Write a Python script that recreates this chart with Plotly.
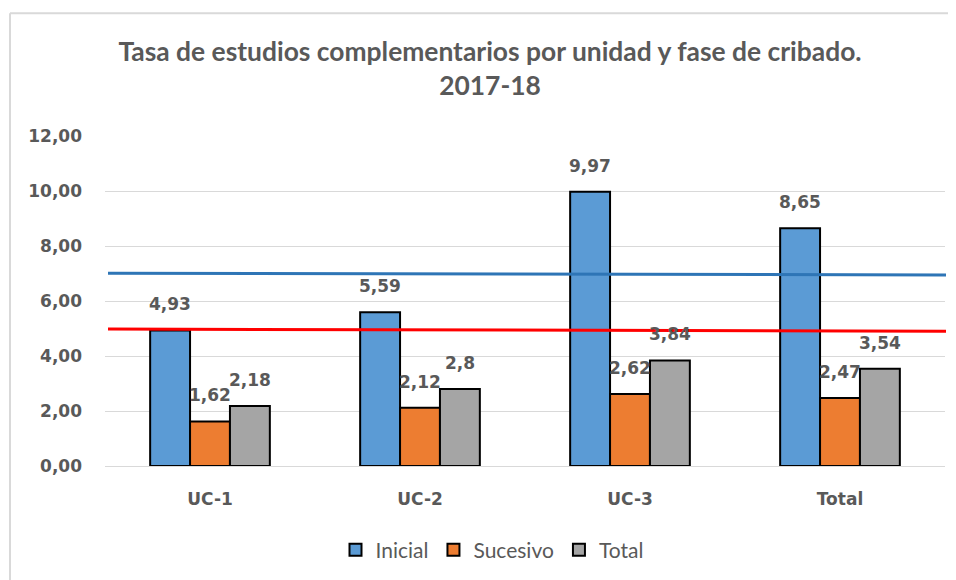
import plotly.graph_objects as go

categories = ["UC-1", "UC-2", "UC-3", "Total"]
inicial = [4.93, 5.59, 9.97, 8.65]
sucesivo = [1.62, 2.12, 2.62, 2.47]
total = [2.18, 2.80, 3.84, 3.54]
labels_inicial = ["4,93", "5,59", "9,97", "8,65"]
labels_sucesivo = ["1,62", "2,12", "2,62", "2,47"]
labels_total = ["2,18", "2,8", "3,84", "3,54"]
tick_vals = [0, 2, 4, 6, 8, 10, 12]
tick_text = ["0,00", "2,00", "4,00", "6,00", "8,00", "10,00", "12,00"]
ref_blue = [7.01, 6.95]
ref_red = [4.98, 4.90]

# page body has an 8px margin, so work in figure coordinates = screen - 8
OFF = 8
W, H = 956 - OFF, 580 - OFF
L, R, T, B = 97, 11, 128, 113
pw, ph = W - L - R, H - T - B

def px(x):
    return (x - OFF - L) / pw

def py(y):
    return (H - B - (y - OFF)) / ph

num_font = dict(family="DejaVu Sans", size=17, color="#595959", weight="bold")

fig = go.Figure()
series = [
    ("Inicial", inicial, labels_inicial, "#5B9BD5", -40),
    ("Sucesivo", sucesivo, labels_sucesivo, "#ED7D31", 0),
    ("Total", total, labels_total, "#A5A5A5", 40),
]
for name, vals, labs, col, shift in series:
    fig.add_trace(go.Bar(
        name=name, x=categories, y=vals,
        marker=dict(color=col, line=dict(color="#000000", width=2)),
        hoverinfo="skip",
    ))
    for c, v, t in zip(categories, vals, labs):
        fig.add_annotation(x=c, y=v, text=t, showarrow=False, xshift=shift,
                           yshift=26, yanchor="middle", font=num_font)

fig.add_shape(type="line", xref="paper", yref="y", x0=px(108), x1=px(946),
              y0=ref_blue[0], y1=ref_blue[1], line=dict(color="#2E75B6", width=3))
fig.add_shape(type="line", xref="paper", yref="y", x0=px(108), x1=px(946),
              y0=ref_red[0], y1=ref_red[1], line=dict(color="#FF0000", width=3))

# chart area border (top and left visible)
fig.add_shape(type="line", xref="paper", yref="paper", x0=px(10), x1=px(960),
              y0=py(13), y1=py(13), line=dict(color="#D9D9D9", width=2))
fig.add_shape(type="line", xref="paper", yref="paper", x0=px(10), x1=px(10),
              y0=py(13), y1=py(590), line=dict(color="#D9D9D9", width=2))

fig.update_layout(
    width=W, height=H,
    margin=dict(l=L, r=R, t=T, b=B),
    paper_bgcolor="white", plot_bgcolor="white",
    barmode="group", bargap=0.43, bargroupgap=0,
    title=dict(
        text="Tasa de estudios complementarios por unidad y fase de cribado.<br>2017-18",
        x=px(490), xanchor="center", xref="paper",
        y=1 - (61 - OFF) / H, yanchor="middle",
        font=dict(family="Lato", size=26.4, color="#595959", weight="bold"),
    ),
    legend=dict(
        orientation="h", x=px(492), xanchor="center", y=py(550), yanchor="middle",
        font=dict(family="Lato", size=21, color="#595959"),
        itemwidth=30, traceorder="normal",
    ),
    showlegend=True,
)
fig.update_yaxes(range=[0, 12], tickvals=tick_vals, ticktext=tick_text,
                 tickfont=num_font, showgrid=True, gridcolor="#D9D9D9", gridwidth=1,
                 zeroline=False, showline=False, ticks="", ticklabelstandoff=22)
fig.update_xaxes(tickfont=num_font, showline=True, linecolor="#D9D9D9", linewidth=1,
                 ticks="", showgrid=False, ticklabelstandoff=18)

fig.write_html("out.html")
